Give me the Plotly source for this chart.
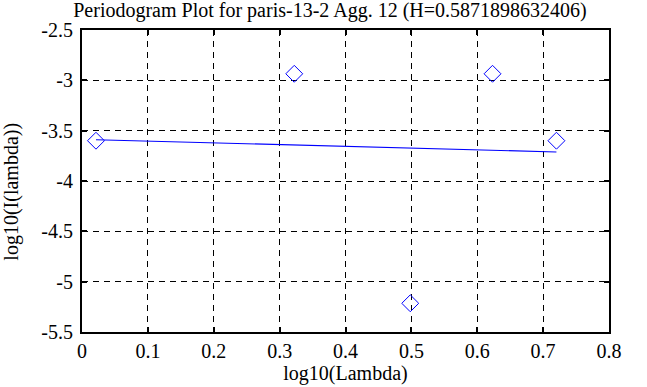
import plotly.graph_objects as go

title = "Periodogram Plot for paris-13-2 Agg. 12 (H=0.5871898632406)"
x_pts = [0.0212, 0.3222, 0.4983, 0.6232, 0.7202]
y_pts = [-3.60, -2.935, -5.215, -2.935, -3.60]
fit_x = [0.0212, 0.7202]
fit_y = [-3.590, -3.712]

x_ticks = [0, 0.1, 0.2, 0.3, 0.4, 0.5, 0.6, 0.7, 0.8]
x_labels = ["0", "0.1", "0.2", "0.3", "0.4", "0.5", "0.6", "0.7", "0.8"]
y_ticks = [-5.5, -5, -4.5, -4, -3.5, -3, -2.5]
y_labels = ["-5.5", "-5", "-4.5", "-4", "-3.5", "-3", "-2.5"]

font = "Liberation Serif"

fig = go.Figure()
fig.add_trace(go.Scatter(x=x_pts, y=y_pts, mode="markers",
                         marker=dict(symbol="diamond-open", size=13, color="blue",
                                     line=dict(width=1, color="blue")),
                         showlegend=False))
fig.add_trace(go.Scatter(x=fit_x, y=fit_y, mode="lines",
                         line=dict(color="blue", width=1.2), showlegend=False))

axis_common = dict(showline=True, linecolor="black", linewidth=2, mirror="ticks",
                   ticks="inside", ticklen=5, tickwidth=2, tickcolor="black",
                   showgrid=True, gridcolor="black", gridwidth=1, griddash="6px,5px",
                   zeroline=False, automargin=False,
                   tickfont=dict(family=font, size=20, color="black"))

fig.update_layout(
    width=647, height=387,
    margin=dict(l=82, r=38, t=30, b=55),
    paper_bgcolor="white", plot_bgcolor="white",
    font=dict(family=font, size=20, color="black"),
    title=dict(text=title, x=0.51, xanchor="center", y=0.992, yanchor="top",
               pad=dict(t=0, b=0), font=dict(family=font, size=20, color="black")),
    xaxis=dict(range=[0, 0.8], tickvals=x_ticks, ticktext=x_labels,
               title=dict(text="log10(Lambda)", font=dict(family=font, size=20, color="black"),
                          standoff=3),
               **axis_common),
    yaxis=dict(range=[-5.5, -2.5], tickvals=y_ticks, ticktext=y_labels,
               ticklabelstandoff=3, **axis_common),
    annotations=[dict(text="log10(I(lambda))", textangle=-90, xref="paper", yref="paper",
                      x=-0.1335, y=0.4636, xanchor="center", yanchor="middle",
                      showarrow=False, font=dict(family=font, size=20, color="black"))],
)

fig.write_html("out.html", config={"displayModeBar": False},
               post_script="document.body.style.margin='0';")
